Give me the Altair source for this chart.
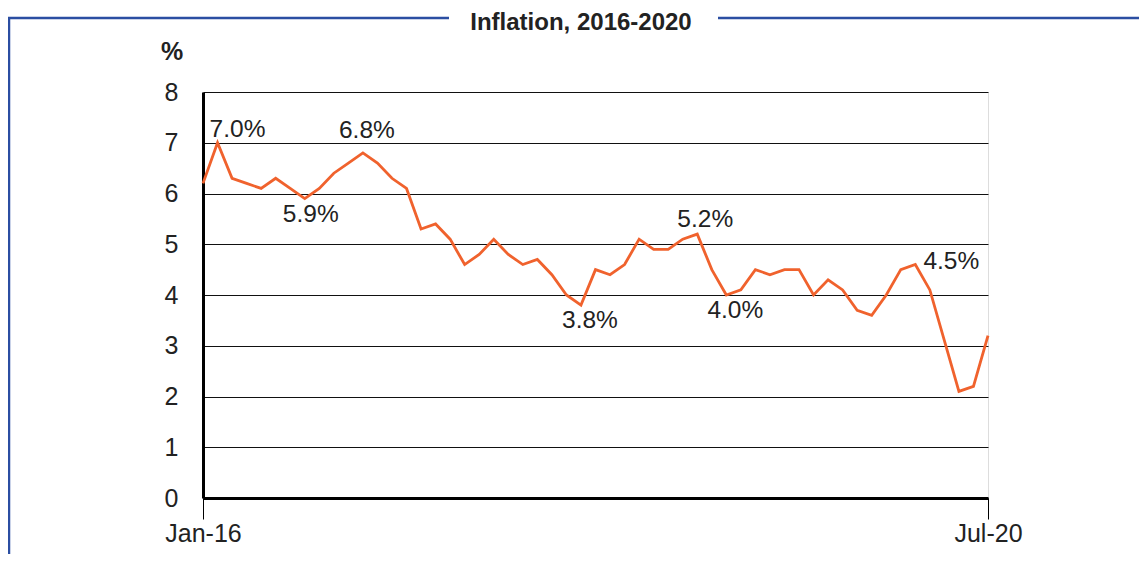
import altair as alt
import pandas as pd

# ---- data ----
months = list(pd.date_range("2016-01-01", "2020-07-01", freq="MS").strftime("%b-%y"))
inflation = [
    6.2, 7.0, 6.3, 6.2, 6.1, 6.3, 6.1, 5.9, 6.1, 6.4, 6.6, 6.8,   # 2016
    6.6, 6.3, 6.1, 5.3, 5.4, 5.1, 4.6, 4.8, 5.1, 4.8, 4.6, 4.7,   # 2017
    4.4, 4.0, 3.8, 4.5, 4.4, 4.6, 5.1, 4.9, 4.9, 5.1, 5.2, 4.5,   # 2018
    4.0, 4.1, 4.5, 4.4, 4.5, 4.5, 4.0, 4.3, 4.1, 3.7, 3.6, 4.0,   # 2019
    4.5, 4.6, 4.1, 3.1, 2.1, 2.2, 3.2,                            # 2020
]
x_tick_labels = ["Jan-16", "Jul-20"]
y_ticks = [0, 1, 2, 3, 4, 5, 6, 7, 8]
annot_months = ["Feb-16", "Dec-16", "Aug-16", "Mar-18", "Nov-18", "Jan-19", "Feb-20"]
annot_texts = ["7.0%", "6.8%", "5.9%", "3.8%", "5.2%", "4.0%", "4.5%"]
title_text = "Inflation, 2016-2020"
unit_text = "%"

# ---- styles (label offsets in px, not data) ----
annot_offsets = [(20, -13), (4, -22), (6, 16), (9, 16), (8, -14), (9, 16), (36, -3)]

W, H = 785, 406
FONT = "Liberation Sans"
ORANGE = "#F0622D"
BLUE = "#2B4EA2"
TXT = "#222222"

df = pd.DataFrame({"month": months, "value": inflation, "idx": range(len(months))})

xenc = alt.X(
    "month:O",
    sort=months,
    scale=alt.Scale(type="point", padding=0),
    axis=alt.Axis(
        values=x_tick_labels, labelAngle=0, title=None, grid=False,
        domainColor="black", domainWidth=3,
        ticks=True, tickSize=21, tickWidth=1, tickColor="black",
        labelPadding=2, labelFontSize=25, labelFont=FONT, labelColor=TXT,
        labelFontWeight="normal",
    ),
)
yenc = alt.Y(
    "value:Q",
    scale=alt.Scale(domain=[0, 8], nice=False, zero=True),
    axis=alt.Axis(
        values=y_ticks, title=None, grid=True, gridColor="#111111", gridWidth=1,
        domainColor="black", domainWidth=3, ticks=False,
        labelPadding=25, labelFontSize=25, labelFont=FONT, labelColor=TXT,
    ),
)

base = alt.Chart(df)
line = base.mark_line(color=ORANGE, strokeWidth=2.8).encode(
    x=xenc, y=yenc, order=alt.Order("idx:Q")
)

ann_df = df.set_index("month").loc[annot_months].reset_index()
ann_df["label"] = annot_texts
layers = [line]
for (m, t), (dx, dy) in zip(zip(annot_months, annot_texts), annot_offsets):
    sub = ann_df[ann_df["month"] == m]
    layers.append(
        alt.Chart(sub).mark_text(
            dx=dx, dy=dy, align="center", baseline="middle",
            fontSize=24.5, font=FONT, color=TXT,
        ).encode(
            x=alt.X("month:O", sort=months), y=alt.Y("value:Q"), text="label:N"
        )
    )

one = pd.DataFrame({"k": [0]})
frame_left = alt.Chart(one).mark_rule(color=BLUE, strokeWidth=2.5).encode(
    x=alt.value(-194), y=alt.value(-74), y2=alt.value(480)
)
frame_top1 = alt.Chart(one).mark_rule(color=BLUE, strokeWidth=2.5).encode(
    x=alt.value(-195), x2=alt.value(246), y=alt.value(-74)
)
frame_top2 = alt.Chart(one).mark_rule(color=BLUE, strokeWidth=2.5).encode(
    x=alt.value(515), x2=alt.value(960), y=alt.value(-74)
)
title = alt.Chart(one).mark_text(
    fontSize=24, fontWeight="bold", font=FONT, color=TXT,
    align="center", baseline="middle",
).encode(x=alt.value(378), y=alt.value(-69), text=alt.value(title_text))
unit = alt.Chart(one).mark_text(
    fontSize=25, fontWeight="bold", font=FONT, color=TXT,
    align="center", baseline="middle",
).encode(x=alt.value(-31), y=alt.value(-40), text=alt.value(unit_text))

chart = alt.layer(*layers, frame_left, frame_top1, frame_top2, title, unit).properties(
    width=W, height=H,
    autosize=alt.AutoSizeParams(type="none"),
    padding={"left": 195, "top": 84, "right": 151, "bottom": 56},
).configure_view(stroke=None).configure(background="white")

chart.save("out.html", embed_options={"renderer": "svg", "actions": False})
